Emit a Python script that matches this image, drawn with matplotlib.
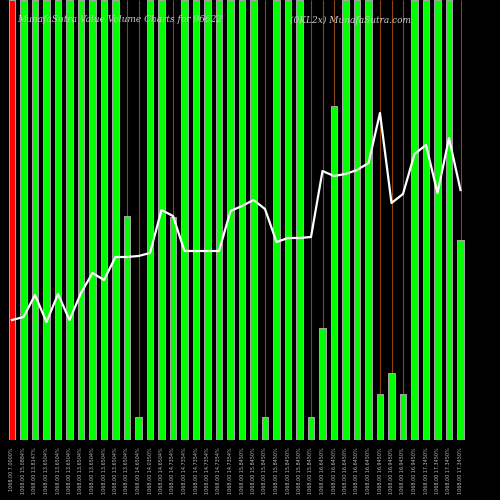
import matplotlib
matplotlib.use("Agg")
import matplotlib.pyplot as plt

full = 440
bar_heights = [440,440,440,440,440,440,440,440,440,440,224,23,440,440,223,440,440,440,440,440,
               440,440,23,440,440,440,23,112,334,440,440,440,46,67,46,440,440,440,440,200]
bar_colors = ['red'] + ['lime']*39
short_marks = [10,11,14,22,26,27,28,32,33,34,39]
line_y = [320,317,295,322,294,320,293,273,280,257,257,256,253,210,216,251,251,251,251,211,
          206,200,209,242,238,238,237,171,176,174,170,163,113,203,194,154,145,193,138,190]
labels = ["1068.00 7.0000%","1068.00 15.0884%","1068.00 13.8147%","1068.00 13.6504%","1068.00 13.6504%",
          "1068.00 13.6504%","1068.00 13.6504%","1068.00 13.6504%","1068.00 13.6504%","1068.00 13.6504%",
          "1068.00 13.6504%","1068.00 14.6504%","1068.00 14.0350%","1068.00 14.6504%","1068.00 14.7354%",
          "1068.00 14.7354%","1068.00 14.7354%","1068.00 14.7354%","1068.00 14.7354%","1068.00 14.7354%",
          "1068.00 15.8450%","1068.00 15.8450%","1068.00 15.8450%","1068.00 15.8450%","1068.00 15.8450%",
          "1068.00 15.8450%","1068.00 15.8450%","1068.00 16.6450%","1068.00 16.6450%","1068.00 16.6450%",
          "1068.00 16.6450%","1068.00 16.6450%","1068.00 16.9450%","1068.00 16.9450%","1068.00 16.9450%",
          "1068.00 16.9450%","1068.00 17.3450%","1068.00 17.3450%","1068.00 17.3450%","1068.00 17.3450%"]

fig = plt.figure(figsize=(5,5), dpi=100, facecolor='black')
ax = fig.add_axes([0, 0.12, 1, 0.88], facecolor='black')
x0, dx = 12, 11.5
xs = [x0 + dx*i for i in range(len(bar_heights))]
ax.bar(xs, bar_heights, width=6.5, color=bar_colors, edgecolor='#aaaaaa', linewidth=0.7, zorder=2)
for i in short_marks:
    ax.vlines(xs[i], bar_heights[i], full, color='#8B4513', linewidth=0.8, zorder=1)
ax.plot(xs, [full - v for v in line_y], color='white', linewidth=1.6, zorder=3)
ax.set_xlim(0, 500)
ax.set_ylim(0, full)
ax.axis('off')
for x, lab in zip(xs, labels):
    fig.text(x/500, 0.105, lab, rotation=90, ha='center', va='top', color='#bbbbbb', fontsize=3.5)
fig.text(0.035, 0.96, "MunafaSutra Value Volume Charts for 96622", color='#cccccc', fontsize=6.5,
         style='italic', family='DejaVu Serif', va='center')
fig.text(0.58, 0.96, "(0KL2x) MunafaSutra.com", color='#cccccc', fontsize=6.5,
         style='italic', family='DejaVu Serif', va='center')
fig.savefig("out.png", dpi=100, facecolor='black')
